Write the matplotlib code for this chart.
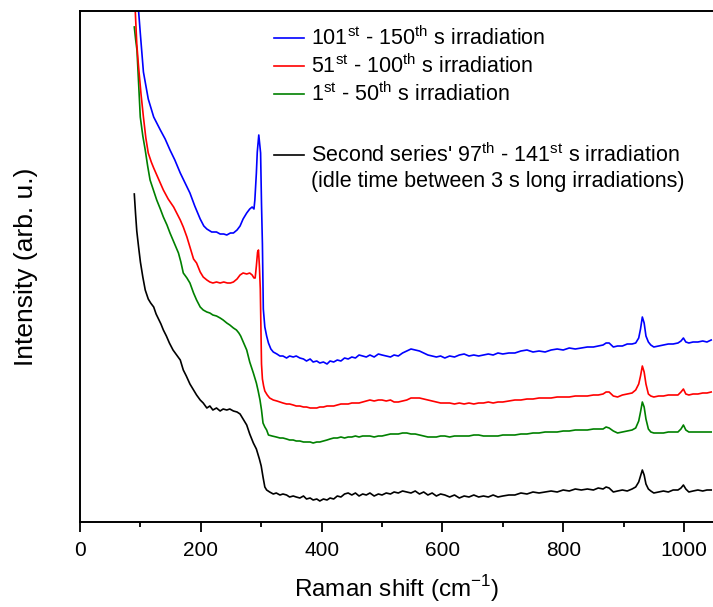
import matplotlib
matplotlib.use("Agg")
import matplotlib.pyplot as plt
from matplotlib.lines import Line2D

plt.rcParams['font.family'] = ['Liberation Sans', 'DejaVu Sans']
plt.rcParams['mathtext.fontset'] = 'custom'
plt.rcParams['mathtext.rm'] = 'Liberation Sans'

# Raman shift (cm-1) and intensity (arb. u.)
blue_x = [88, 95.5, 97, 99.8, 105, 113, 122, 133, 141, 149, 157, 166, 174, 182, 190, 199, 205, 210, 218, 226,
          232, 238, 243, 249, 254, 260, 265, 270, 276, 281, 285, 288, 289.5, 292, 293.5, 296, 299, 300.5, 302, 303.5,
          306, 309, 312, 316, 320, 326, 331, 336, 342, 347, 353, 358, 364, 370, 375, 381, 386, 392, 397, 403,
          409, 414, 420, 426, 432, 438, 444, 450, 456, 462, 468, 474, 480, 487, 494, 500, 507, 514, 520, 527,
          534, 541, 548, 555, 562, 569, 576, 583, 590, 597, 604, 612, 620, 628, 636, 644, 652, 660, 668, 676,
          684, 692, 700, 710, 720, 730, 740, 750, 760, 770, 780, 790, 800, 810, 820, 830, 840, 850, 858, 866,
          871, 876, 883, 890, 898, 906, 914, 920, 925, 928, 931, 934, 937, 941, 945, 950, 958, 966, 974, 982,
          990, 995, 999, 1003, 1008, 1015, 1023, 1031, 1038, 1045]
blue_y = [600, 540, 513, 491, 452, 425, 407, 394, 385, 374, 364, 351, 341, 331, 318, 305, 298, 295, 292, 292,
          290, 290, 289, 291, 291, 294, 298, 305, 311, 315, 317, 315, 324, 351, 372, 389, 371, 320, 280, 215,
          197, 188, 181, 175, 172, 170, 168, 168, 166, 168, 167, 168, 166, 165, 163, 165, 162, 163, 161, 162,
          160, 163, 162, 164, 163, 166, 165, 167, 166, 169, 168, 167, 169, 167, 170, 169, 168, 167, 169, 168,
          171, 173, 175, 174, 173, 171, 169, 168, 167, 168, 166, 168, 167, 169, 170, 168, 169, 168, 169, 170,
          169, 171, 170, 171, 171, 173, 174, 172, 173, 172, 174, 175, 174, 176, 175, 176, 177, 177, 178, 179,
          181, 181, 177, 178, 178, 180, 180, 181, 186, 195, 207, 201, 188, 182, 179, 177, 178, 179, 180, 180,
          181, 183, 186, 182, 181, 182, 182, 183, 182, 184]

red_x = [88, 90, 91.5, 94, 97, 101, 105, 109, 113, 118, 122, 130, 138, 146, 155, 160, 166, 171, 177, 182,
         188, 193, 199, 204, 210, 215, 220, 226, 232, 238, 244, 249, 254, 260, 265, 270, 276, 281, 285, 288,
         290, 292, 294, 295.5, 297, 298.5, 299.5, 300.5, 302, 304, 306, 310, 314, 320, 326, 331, 336, 342, 347, 353,
         358, 364, 370, 375, 381, 386, 392, 397, 403, 409, 414, 420, 426, 432, 438, 444, 450, 456, 462, 468,
         474, 480, 487, 494, 500, 507, 514, 520, 527, 534, 541, 548, 555, 562, 569, 576, 583, 590, 597, 604,
         612, 620, 628, 636, 644, 652, 660, 668, 676, 684, 692, 700, 710, 720, 730, 740, 750, 760, 770, 780,
         790, 800, 810, 820, 830, 840, 850, 858, 866, 871, 876, 883, 890, 898, 906, 914, 920, 925, 928, 931,
         934, 937, 941, 945, 950, 958, 966, 974, 982, 990, 995, 999, 1003, 1008, 1015, 1023, 1031, 1038, 1045]
red_y = [600, 545, 513, 480, 457, 430, 407, 386, 371, 362, 356, 345, 334, 325, 317, 311, 304, 297, 287, 277,
         265, 261, 252, 247, 244, 242, 241, 242, 241, 242, 241, 241, 242, 245, 249, 251, 250, 251, 249, 246,
         246, 258, 272, 274, 258, 235, 200, 160, 145, 138, 133, 129, 126, 124, 123, 122, 121, 120, 120, 119,
         118, 118, 117, 117, 116, 116, 116, 117, 117, 118, 118, 118, 119, 120, 120, 120, 121, 121, 121, 122,
         123, 124, 123, 124, 124, 123, 124, 122, 122, 123, 124, 126, 126, 126, 125, 124, 123, 122, 121, 121,
         121, 120, 121, 120, 121, 120, 121, 121, 122, 121, 122, 122, 123, 124, 124, 125, 125, 126, 126, 126,
         127, 127, 127, 128, 128, 128, 129, 129, 130, 132, 132, 128, 127, 129, 130, 131, 134, 140, 148, 158,
         152, 140, 130, 128, 127, 128, 128, 129, 129, 129, 132, 135, 130, 129, 130, 130, 131, 131, 132]

green_x = [89.9, 92, 94.3, 97, 99.8, 104, 108, 112, 116, 122, 127, 133, 138, 144, 149, 156, 163, 167, 171, 177,
           182, 188, 193, 199, 204, 210, 215, 220, 226, 232, 237, 243, 248, 254, 259, 263, 266, 271, 276, 281,
           287, 292, 295, 298, 300.5, 303, 306, 309, 312, 318, 325, 331, 336, 342, 347, 353, 358, 364, 370, 375,
           381, 386, 392, 397, 403, 409, 414, 420, 426, 432, 438, 444, 450, 456, 462, 468, 474, 480, 487, 494,
           500, 507, 514, 520, 527, 534, 541, 548, 555, 562, 569, 576, 583, 590, 597, 604, 612, 620, 628, 636,
           644, 652, 660, 668, 676, 684, 692, 700, 710, 720, 730, 740, 750, 760, 770, 780, 790, 800, 810, 820,
           830, 840, 850, 858, 866, 871, 876, 883, 890, 898, 906, 914, 920, 925, 928, 931, 934, 937, 941, 945,
           950, 958, 966, 974, 982, 990, 995, 999, 1003, 1008, 1015, 1023, 1031, 1038, 1045]
green_y = [497, 485, 474, 440, 407, 388, 374, 358, 344, 333, 324, 315, 307, 299, 291, 281, 271, 262, 251, 246,
           241, 231, 224, 217, 214, 212, 211, 209, 208, 206, 204, 201, 199, 196, 194, 191, 188, 181, 174, 162,
           151, 141, 133, 124, 114, 101, 97, 94, 89, 88, 87, 86, 86, 85, 84, 84, 83, 83, 82, 82,
           82, 81, 82, 82, 83, 84, 85, 86, 86, 87, 86, 87, 87, 88, 87, 88, 88, 88, 87, 88,
           88, 89, 90, 90, 90, 91, 91, 90, 90, 89, 88, 87, 87, 87, 88, 88, 87, 88, 88, 88,
           88, 89, 89, 88, 88, 88, 88, 89, 89, 89, 90, 90, 91, 91, 92, 92, 92, 93, 93, 94,
           94, 94, 95, 95, 95, 97, 96, 93, 91, 92, 93, 94, 96, 103, 112, 122, 117, 105, 95, 92,
           91, 91, 91, 92, 92, 92, 95, 99, 94, 92, 92, 92, 92, 92, 92]

black_x = [89.9, 92, 94, 97, 100, 104, 108, 113, 117, 122, 126, 130, 134, 138, 143, 148, 154, 160, 166, 171,
           176, 182, 188, 193, 199, 204, 210, 215, 220, 226, 232, 237, 243, 248, 254, 260, 265, 270, 276, 281,
           287, 292, 297, 300, 303, 306, 309, 314, 320, 325, 331, 336, 342, 347, 353, 358, 364, 370, 375, 381,
           386, 392, 397, 403, 409, 414, 420, 426, 432, 438, 444, 450, 456, 462, 468, 474, 480, 487, 494, 500,
           507, 514, 520, 527, 534, 541, 548, 555, 562, 569, 576, 583, 590, 597, 604, 612, 620, 628, 636, 644,
           652, 660, 668, 676, 684, 692, 700, 710, 720, 730, 740, 750, 760, 770, 780, 790, 800, 810, 820, 830,
           840, 850, 858, 866, 871, 876, 883, 890, 898, 906, 914, 920, 925, 928, 931, 934, 937, 941, 945, 950,
           958, 966, 974, 982, 990, 995, 999, 1003, 1008, 1015, 1023, 1031, 1038, 1045]
black_y = [330, 310, 293, 277, 262, 247, 234, 225, 221, 217, 210, 205, 200, 194, 188, 181, 174, 169, 164, 154,
           148, 140, 134, 129, 124, 121, 116, 118, 114, 116, 113, 115, 114, 115, 113, 112, 110, 105, 99, 90,
           81, 75, 65, 58, 47, 37, 34, 32, 30, 31, 29, 30, 29, 27, 28, 27, 26, 28, 25, 26,
           24, 25, 23, 25, 24, 26, 25, 28, 27, 30, 31, 29, 31, 28, 30, 29, 31, 28, 30, 29,
           31, 30, 32, 31, 33, 32, 31, 33, 30, 32, 29, 31, 28, 30, 29, 27, 29, 26, 28, 27,
           29, 27, 28, 27, 29, 27, 28, 29, 29, 31, 30, 32, 31, 32, 33, 32, 34, 33, 35, 34,
           35, 34, 36, 35, 37, 36, 32, 33, 34, 33, 35, 37, 42, 48, 54, 49, 40, 35, 33, 31,
           32, 33, 32, 34, 34, 36, 39, 35, 32, 33, 34, 33, 34, 34]

labels = ['101$^{\\mathrm{st}}$ - 150$^{\\mathrm{th}}$ s irradiation',
          '51$^{\\mathrm{st}}$ - 100$^{\\mathrm{th}}$ s irradiation',
          '1$^{\\mathrm{st}}$ - 50$^{\\mathrm{th}}$ s irradiation',
          "Second series' 97$^{\\mathrm{th}}$ - 141$^{\\mathrm{st}}$ s irradiation\n"
          "(idle time between 3 s long irradiations)"]
colors = ['#0000ff', '#ff0000', '#008000', '#000000']

fig = plt.figure(figsize=(7.13, 6.07), dpi=100)
ax = fig.add_axes([80/713, 1-522/607, 633/713, 511/607])

for xs, ys, c in [(black_x, black_y, colors[3]), (green_x, green_y, colors[2]),
                  (red_x, red_y, colors[1]), (blue_x, blue_y, colors[0])]:
    ax.plot(xs, ys, color=c, lw=1.2)

ax.set_xlim(0, 1048)
ax.set_ylim(2, 513)
ax.set_yticks([])
ax.set_xticks([0, 200, 400, 600, 800, 1000])
ax.set_xticks(range(100, 1100, 200), minor=True)
ax.tick_params(axis='x', which='major', length=7, width=1.3, labelsize=15, pad=7)
ax.tick_params(axis='x', which='minor', length=3.5, width=1.3)
for s in ['left', 'bottom', 'top']:
    ax.spines[s].set_linewidth(1.4)
ax.spines['right'].set_visible(False)
ax.set_xlabel('Raman shift (cm$^{-1}$)', fontsize=17.5, labelpad=9)
ax.set_ylabel('Intensity (arb. u.)', fontsize=19, labelpad=30)

# legend drawn by hand in figure pixels
def legend_row(ypx, color, text):
    fig.add_artist(Line2D([274/713, 304/713], [1-ypx/607, 1-ypx/607], color=color, lw=1.2))
    fig.text(311/713, 1-ypx/607, text, fontsize=15.5, va='center', ha='left')

legend_row(38, colors[0], labels[0])
legend_row(66, colors[1], labels[1])
legend_row(94, colors[2], labels[2])
fig.add_artist(Line2D([274/713, 304/713], [1-155/607, 1-155/607], color=colors[3], lw=1.2))
fig.text(311/713, 1-155/607 + 12/607, labels[3], fontsize=15.5, va='top', ha='left', linespacing=1.25)

fig.savefig('out.png', dpi=100)
